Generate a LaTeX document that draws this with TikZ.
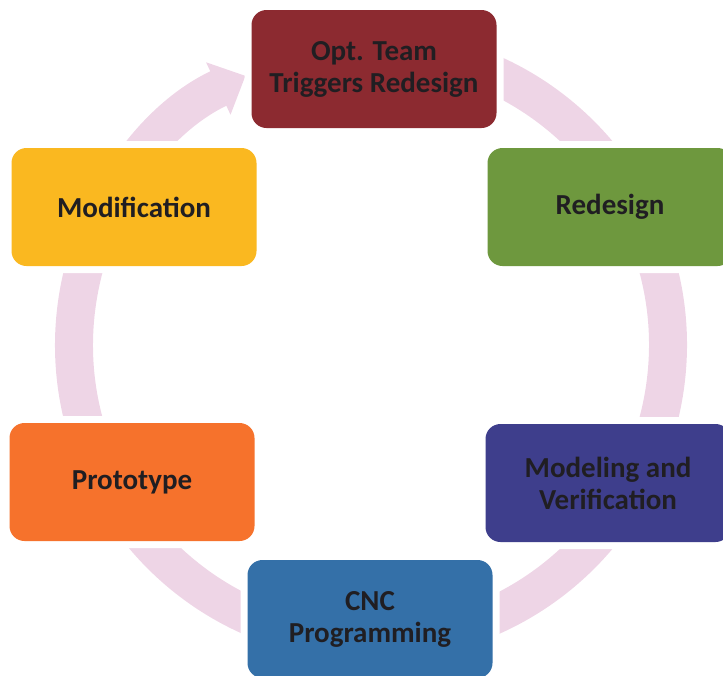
\documentclass[tikz,border=0pt]{standalone}
\usepackage{fontspec}
\setmainfont{Carlito}
\usetikzlibrary{positioning, calc, arrows.meta}

\definecolor{trigred}{RGB}{140,42,48}
\definecolor{redesgreen}{RGB}{110,152,62}
\definecolor{modelblue}{RGB}{62,62,140}
\definecolor{cncblue}{RGB}{52,112,168}
\definecolor{protoorange}{RGB}{246,114,44}
\definecolor{modifyellow}{RGB}{250,184,32}
\definecolor{ringpink}{RGB}{238,213,230}
\definecolor{textdark}{RGB}{32,30,34}

\tikzset{
    stage/.style={fill, rounded corners=15pt, minimum width=245pt, minimum height=118pt,
        preaction={draw=white, line width=14pt},
        align=center, text=textdark, font=\bfseries\fontsize{29}{32}\selectfont},
    ring/.style={line width=38pt, draw=ringpink, -{Triangle[width=56pt, length=30pt]}}
}

\begin{document}
\begin{tikzpicture}[x=1pt, y=-1pt]
        \clip (0,0) rectangle (723,675);
        \coordinate (hub) at (371,345);
        \coordinate (ringstart) at ($(hub)+(275:297)$);

        % cycle ring behind the stages
        \draw[ring] (ringstart) arc[start angle=275, end angle=605, radius=297];

        \node[stage, fill=trigred] (trig) at (374,69) {Opt. Team\\Triggers Redesign};
        \node[stage, fill=redesgreen] (redesign) at (610,207) {Redesign};
        \node[stage, fill=modelblue] (model) at (608,483) {Modeling and\\Verification};
        \node[stage, fill=cncblue] (cnc) at (370,619) {CNC\\Programming};
        \node[stage, fill=protoorange] (proto) at (132,482) {Prototype};
        \node[stage, fill=modifyellow] (modif) at (134,207) {Modification};
    \end{tikzpicture}
\end{document}
